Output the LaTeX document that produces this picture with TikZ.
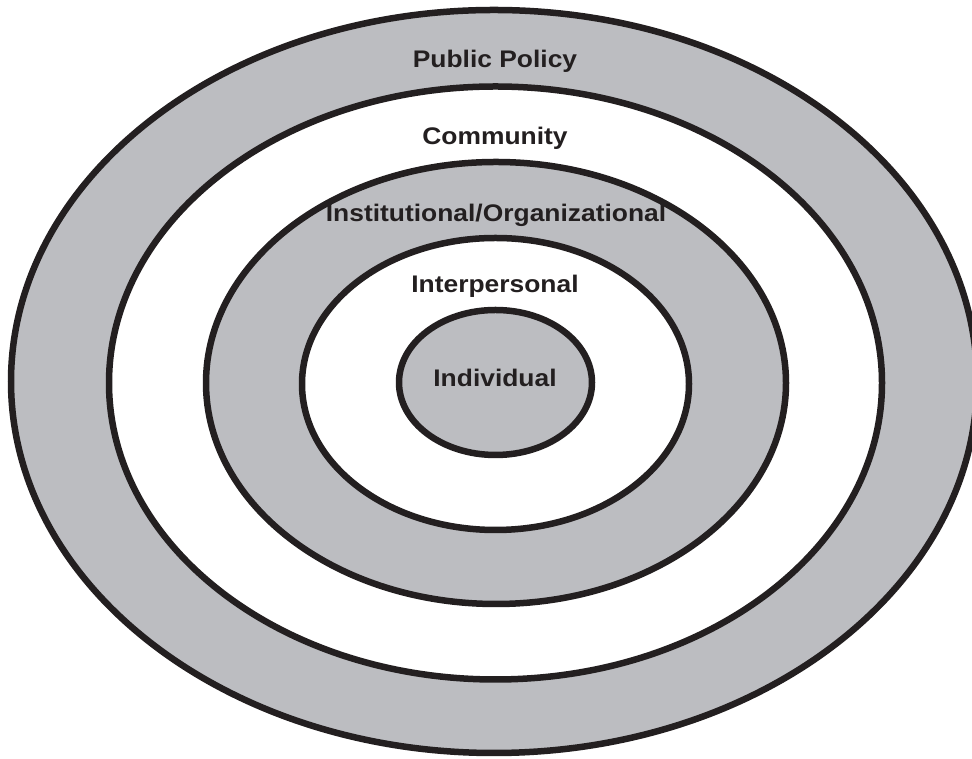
\documentclass[tikz,border=0pt]{standalone}
\usepackage{fontspec}
\setmainfont{Liberation Sans}
\usepackage{tikz}
\definecolor{ringgray}{RGB}{188,189,193}
\definecolor{ringline}{RGB}{35,31,32}
\tikzset{
	ring/.style={draw=ringline, line width=6.5pt},
	lbl/.style={anchor=base, inner sep=0pt, font=\fontsize{24}{24}\selectfont\bfseries, text=ringline, xscale=1.1, transform shape}
}
\begin{document}
\begin{tikzpicture}[x=1pt,y=1pt]
	\path[use as bounding box, clip] (0,0) rectangle (972,759);
	\draw[ring, fill=ringgray] (494,377.5) ellipse [x radius=483, y radius=371.5];
	\draw[ring, fill=white] (495.5,376) ellipse [x radius=386.5, y radius=296.5];
	\draw[ring, fill=ringgray] (496,376) ellipse [x radius=290, y radius=221];
	\draw[ring, fill=white] (495.5,375) ellipse [x radius=193.5, y radius=146];
	\draw[ring, fill=ringgray] (495.5,376.5) ellipse [x radius=96.5, y radius=72.5];
	
	\draw (495,691) node[lbl] (policy) {Public Policy};
	\draw (495,614) node[lbl] (community) {Community};
	\draw (496,537) node[lbl] (institution) {Institutional/Organizational};
	\draw (495,466) node[lbl] (interpersonal) {Interpersonal};
	\draw (495,372) node[lbl] (individual) {Individual};
\end{tikzpicture}
\end{document}
